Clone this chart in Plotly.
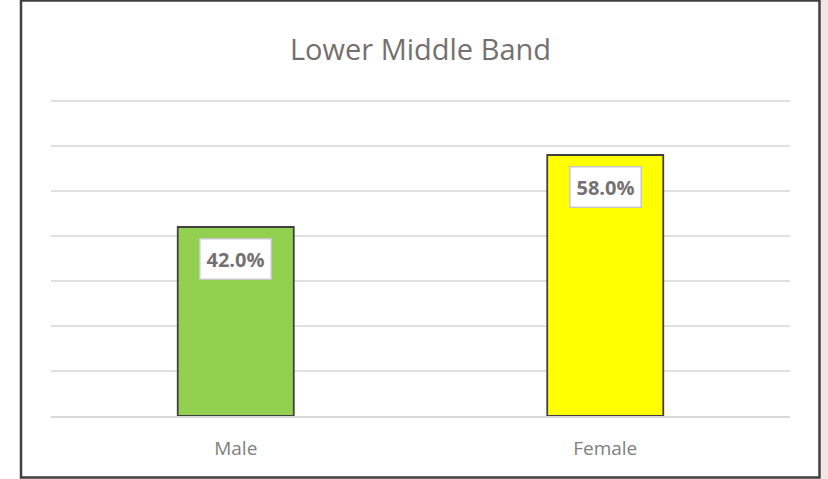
import plotly.graph_objects as go

categories = ["Male", "Female"]
values = [42.0, 58.0]
bar_colors = ["#92d050", "#ffff00"]
title_text = "Lower Middle Band"

W, H = 828, 479
L, R, T, B = 51, 38, 101, 63
pw, ph = W - L - R, H - T - B

def px_x(x):
    return (x - L) / pw

def px_y(y):
    return (H - B - y) / ph

fig = go.Figure()
fig.add_trace(go.Bar(
    x=categories, y=values,
    marker=dict(color=bar_colors, line=dict(color="#404040", width=1.8)),
    hoverinfo="skip",
))

for c, v in zip(categories, values):
    fig.add_annotation(
        x=c, y=v, xref="x", yref="y",
        text=f"<b>{v:.1f}%</b>",
        showarrow=False, yanchor="top", yshift=-11,
        font=dict(family="Open Sans", size=20, color="#767171"),
        bgcolor="white", bordercolor="#c8c8c8", borderwidth=1.5, borderpad=6,
    )

# right pink strip
fig.add_shape(type="rect", xref="paper", yref="paper",
              x0=px_x(821), x1=px_x(830), y0=px_y(481), y1=px_y(-2),
              fillcolor="#f1e6e8", line=dict(width=0), layer="below")
# chart border
fig.add_shape(type="rect", xref="paper", yref="paper",
              x0=px_x(21), x1=px_x(819.5), y0=px_y(477), y1=px_y(3),
              line=dict(color="#404040", width=2.5), fillcolor="rgba(0,0,0,0)")

fig.update_layout(
    width=W, height=H,
    margin=dict(l=L, r=R, t=T - 2, b=B),
    paper_bgcolor="white", plot_bgcolor="white",
    title=dict(text=title_text, x=0.5, xref="paper", xanchor="center",
               y=1 - 50 / H, yref="container", yanchor="middle",
               font=dict(family="Open Sans", size=29, color="#757070")),
    bargap=0.686,
    showlegend=False,
    xaxis=dict(showline=True, linecolor="#d9d9d9", linewidth=1.5,
               tickfont=dict(family="Open Sans", size=19, color="#808080"),
               ticks="outside", ticklen=14, tickcolor="rgba(0,0,0,0)",
               fixedrange=True),
    yaxis=dict(range=[0, 70.45], tick0=0, dtick=10, showgrid=True,
               gridcolor="#e0e0e0", gridwidth=1.5, showticklabels=False,
               zeroline=False, fixedrange=True),
)

fig.write_html("out.html")
